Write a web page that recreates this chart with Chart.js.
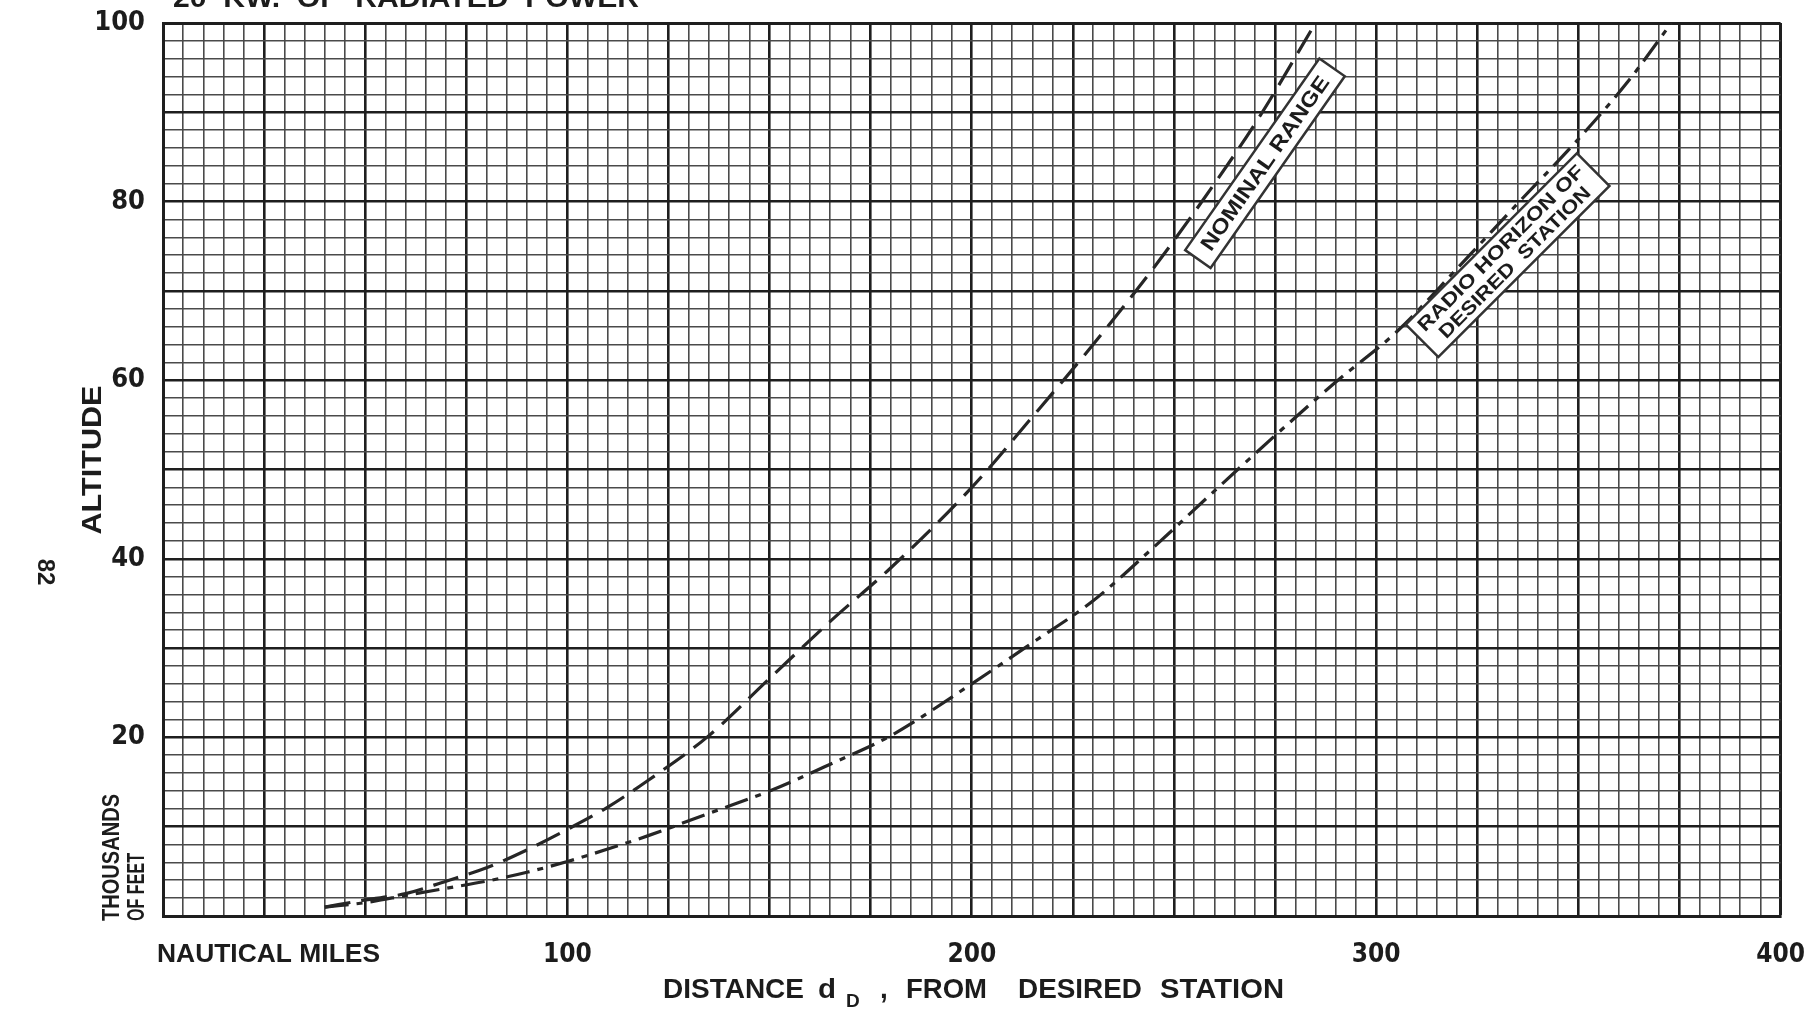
<!DOCTYPE html>
<html><head><meta charset="utf-8">
<script src="https://cdn.jsdelivr.net/npm/chart.js@4.4.1/dist/chart.umd.min.js"></script>
<style>html,body{margin:0;padding:0;background:#fff;}#wrap{width:1805px;height:1017px;}</style>
</head><body><div id="wrap"><canvas id="c" width="1805" height="1017"></canvas></div>
<script>
// ---- data ----
const nominalX = [40, 50, 60, 70, 80, 90, 100, 110, 120, 135, 150, 165, 180, 200, 215, 230, 245, 260, 271, 285];
const nominalY = [1.0, 1.8, 2.5, 3.9, 5.4, 7.4, 9.7, 12.2, 15.2, 20.2, 26.6, 33.0, 39.0, 48.0, 55.9, 64.0, 72.6, 82.0, 89.4, 100];
const horizonX = [40, 50, 60, 70, 80, 90, 100, 110, 120, 135, 150, 165, 180, 200, 215, 230, 245, 260, 275, 290, 305, 320, 335, 350, 362, 373];
const horizonY = [1.0, 1.5, 2.3, 3.1, 3.9, 4.9, 6.1, 7.5, 9.0, 11.5, 14.0, 17.0, 20.2, 26.0, 30.6, 35.3, 41.3, 47.6, 53.8, 59.8, 65.4, 72.5, 79.8, 87.0, 93.3, 100];
const xLabelValues = [100, 200, 300, 400];
const yLabelValues = [20, 40, 60, 80, 100];
const seriesNames = ['NOMINAL RANGE', 'RADIO HORIZON OF DESIRED STATION'];

const FONT = '"Liberation Sans", Arial, sans-serif';
const NARROW = '"Liberation Sans Narrow", "DejaVu Sans Condensed", "Liberation Sans", sans-serif';
const INK = '#1c1c1c';

function fillFit(ctx, text, x, y, targetW) {
  const w = ctx.measureText(text).width;
  ctx.save();
  ctx.translate(x, y);
  ctx.scale(targetW / w, 1);
  ctx.fillText(text, 0, 0);
  ctx.restore();
}

function drawLabelBox(ctx, cx, cy, angleDeg, w, h, lines, widths, font, lineGap) {
  ctx.save();
  ctx.translate(cx, cy);
  ctx.rotate(angleDeg * Math.PI / 180);
  ctx.fillStyle = '#fff';
  ctx.fillRect(-w / 2, -h / 2, w, h);
  ctx.lineWidth = 2.5; ctx.strokeStyle = '#333';
  ctx.strokeRect(-w / 2, -h / 2, w, h);
  ctx.fillStyle = INK;
  ctx.font = font;
  ctx.textAlign = 'center'; ctx.textBaseline = 'middle';
  lines.forEach((t, i) => fillFit(ctx, t, 0, (i - (lines.length - 1) / 2) * lineGap + 1, widths[i]));
  ctx.restore();
}

const extraText = {
  id: 'extraText',
  afterDatasetsDraw(chart) {
    const {ctx, scales: {x, y}} = chart;
    drawLabelBox(ctx, x.getPixelForValue(272.5), y.getPixelForValue(84.3), -55, 234, 31, ['NOMINAL RANGE'], [208], 'bold 21px ' + FONT, 0);
    drawLabelBox(ctx, x.getPixelForValue(332.5), y.getPixelForValue(74.0), -45, 242, 46, ['RADIO HORIZON OF', 'DESIRED  STATION'], [226, 206], 'bold 19px ' + FONT, 20);
  },
  afterDraw(chart) {
    const ctx = chart.ctx;
    ctx.save();
    ctx.fillStyle = INK;
    ctx.textBaseline = 'alphabetic';
    ctx.textAlign = 'left';
    ctx.font = 'bold 28px ' + FONT;
    fillFit(ctx, 'DISTANCE', 663, 998, 141);
    fillFit(ctx, 'd', 818, 998, 18);
    ctx.font = 'bold 19px ' + FONT;
    ctx.fillText('D', 846, 1007);
    ctx.font = 'bold 28px ' + FONT;
    ctx.fillText(',', 880, 998);
    fillFit(ctx, 'FROM', 906, 998, 81);
    fillFit(ctx, 'DESIRED', 1018, 998, 124);
    fillFit(ctx, 'STATION', 1160, 998, 124);
    ctx.font = 'bold 26px ' + FONT;
    fillFit(ctx, 'NAUTICAL MILES', 157, 962, 223);
    ctx.font = 'bold 28px ' + FONT;
    fillFit(ctx, '20  KW.  OF  RADIATED  POWER', 173, 7, 466);
    // rotated texts
    ctx.save(); ctx.translate(101, 460); ctx.rotate(-Math.PI / 2);
    ctx.textAlign = 'center'; ctx.font = 'bold 28px ' + FONT; fillFit(ctx, 'ALTITUDE', 0, 0, 149); ctx.restore();
    ctx.save(); ctx.translate(119, 921); ctx.rotate(-Math.PI / 2);
    ctx.font = 'bold 23px ' + FONT; fillFit(ctx, 'THOUSANDS', 0, 0, 127); ctx.restore();
    ctx.save(); ctx.translate(144, 921); ctx.rotate(-Math.PI / 2);
    ctx.font = 'bold 23px ' + FONT; fillFit(ctx, 'OF FEET', 0, 0, 68); ctx.restore();
    ctx.save(); ctx.translate(38, 572); ctx.rotate(Math.PI / 2);
    ctx.textAlign = 'center'; ctx.font = 'bold 24px ' + FONT; ctx.fillText('82', 0, 0); ctx.restore();
    ctx.restore();
  }
};

function pts(xs, ys) { return xs.map((v, i) => ({x: v, y: ys[i]})); }

new Chart(document.getElementById('c'), {
  type: 'scatter',
  data: {
    datasets: [
      { label: seriesNames[0], data: pts(nominalX, nominalY), showLine: true, borderColor: '#262626', borderWidth: 3.2,
        borderDash: [26, 11], pointRadius: 0, cubicInterpolationMode: 'monotone', fill: false },
      { label: seriesNames[1], data: pts(horizonX, horizonY), showLine: true, borderColor: '#262626', borderWidth: 3.2,
        borderDash: [24, 8, 6, 8], pointRadius: 0, cubicInterpolationMode: 'monotone', fill: false }
    ]
  },
  options: {
    responsive: false, animation: false, devicePixelRatio: 1,
    layout: {padding: {left: 0, right: 22, top: 23, bottom: 0}},
    plugins: {legend: {display: false}, tooltip: {enabled: false}},
    scales: {
      x: {
        type: 'linear', min: 0, max: 400,
        afterFit(s) { s.height = 101; },
        ticks: {stepSize: 5, autoSkip: false, maxRotation: 0, minRotation: 0, padding: 0, color: INK,
          font: {family: NARROW, size: 26, weight: 'bold'},
          callback: (v) => xLabelValues.includes(v) ? String(v) : ''},
        grid: {drawTicks: true, tickLength: 24, tickColor: 'rgba(0,0,0,0)',
          color: (c) => (c.tick && c.tick.value % 25 === 0) ? '#1e1e1e' : '#4a4a4a',
          lineWidth: (c) => (c.tick && (c.tick.value === 400)) ? 3 : (c.tick && c.tick.value % 25 === 0) ? 2.6 : 1.6},
        border: {display: true, color: '#1e1e1e', width: 3}
      },
      y: {
        type: 'linear', min: 0, max: 100,
        afterFit(s) { s.width = 163; },
        ticks: {stepSize: 2, autoSkip: false, padding: 4, color: INK,
          font: {family: NARROW, size: 27, weight: 'bold'},
          callback: (v) => yLabelValues.includes(v) ? String(v) : ''},
        grid: {drawTicks: true, tickLength: 14, tickColor: 'rgba(0,0,0,0)',
          color: (c) => (c.tick && c.tick.value % 10 === 0) ? '#1e1e1e' : '#4a4a4a',
          lineWidth: (c) => (c.tick && c.tick.value === 100) ? 3 : (c.tick && c.tick.value % 10 === 0) ? 2.6 : 1.6},
        border: {display: true, color: '#1e1e1e', width: 3}
      }
    }
  },
  plugins: [extraText]
});
</script></body></html>
